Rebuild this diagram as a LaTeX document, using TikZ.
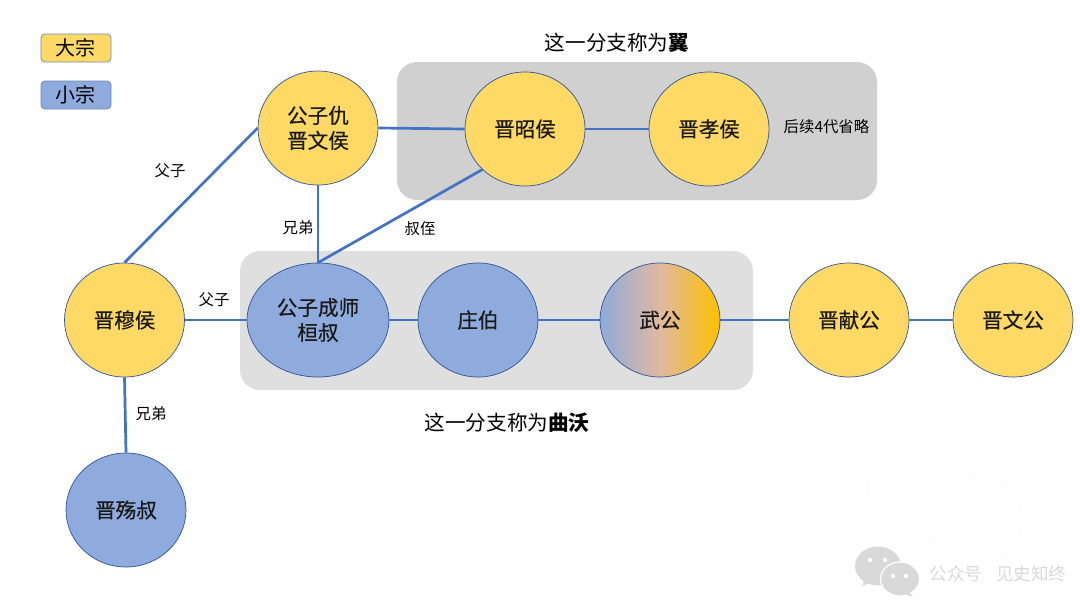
\documentclass[tikz,border=0pt]{standalone}
\usepackage{fontspec}
\setmainfont{Noto Sans CJK SC}
\newfontfamily\heavier[FakeBold=0.5]{Noto Sans CJK SC}
\usetikzlibrary{shapes.geometric}
\definecolor{gold}{HTML}{FFD966}
\definecolor{blu}{HTML}{8FAADC}
\definecolor{edgeb}{HTML}{2F5597}
\definecolor{connc}{HTML}{4472C4}
\definecolor{wm}{HTML}{D9D9D9}
\definecolor{midg}{HTML}{E0B9A0}
\definecolor{amber}{HTML}{FFC000}
\tikzset{
 person/.style={ellipse,draw=edgeb,line width=0.7pt,minimum width=120pt,minimum height=114pt,inner sep=0pt,font=\heavier\fontsize{20.6}{25}\selectfont,align=center,text=black!90},
 da/.style={person,fill=gold},
 xiao/.style={person,fill=blu},
 connline/.style={draw=connc,line width=2.7pt},
 rel/.style={font=\fontsize{15.4}{18}\selectfont,inner sep=0pt},
 captext/.style={font=\fontsize{20.6}{24}\selectfont,inner sep=0pt},
 legendbox/.style={draw=edgeb!70,line width=0.8pt,rounded corners=4pt,minimum width=70pt,minimum height=28pt,inner sep=0pt,font=\fontsize{20}{24}\selectfont},
 panel/.style={rounded corners=20pt,draw=none},
 wmfaint/.style={draw=black!2.5,line width=0.5pt},
}
\begin{document}
\begin{tikzpicture}[x=1pt,y=-1pt]
\useasboundingbox (0,0) rectangle (1080,600);
% panels
\fill[panel,fill=black!18.5] (397,62) rectangle (877,200);
\fill[panel,fill=black!12.5] (240,251) rectangle (753,390);
% watermark
\draw[wmfaint] (923,490) ellipse (54 and 50);
\draw[wmfaint] (975,520) ellipse (48 and 45);
\fill[wm] (878,566) ellipse (23 and 19.5);
\fill[wm] (864,580) -- (862,586) -- (873,582) -- cycle;
\fill[wm,draw=white,line width=1.2pt] (900,579) ellipse (19.5 and 17);
\fill[wm] (909,592) -- (913,597) -- (905,594) -- cycle;
\foreach \p in {(870,560),(885,560),(893,576),(906,576)} \fill[white] \p circle (2.2);
\node[text=wm,font=\fontsize{17.5}{20}\selectfont,inner sep=0pt] (wmt) at (998,574) {公众号\hspace{0.8em}见史知终};
% legend
\node[legendbox,fill=gold] (lgd) at (76,48) {\raisebox{-1pt}{大宗}};
\node[legendbox,fill=blu] (lgx) at (76,95) {\raisebox{-1pt}{小宗}};
% people
\node[da] (qiu) at (318,128) {公子仇\\晋文侯};
\node[da] (zhao) at (525,129) {晋昭侯};
\node[da] (xiaoh) at (709,129) {晋孝侯};
\node[da] (mu) at (124.5,320) {晋穆侯};
\node[xiao,minimum width=142pt] (cs) at (318,320) {公子成师\\桓叔};
\node[xiao] (zb) at (478,320) {庄伯};
\node[person,left color=blu,right color=amber,middle color=midg] (wg) at (660,320) {武公};
\node[da] (xian) at (849,320) {晋献公};
\node[da] (wen) at (1013,320) {晋文公};
\node[xiao] (shang) at (126,510) {晋殇叔};
% connectors
\draw[connline] (mu.north) -- (qiu.west);
\draw[connline] (qiu.east) -- (zhao.west);
\draw[connline] (zhao.east) -- (xiaoh.west);
\draw[connline] (qiu.south) -- (cs.north);
\draw[connline] (zhao.south west) -- (cs.north);
\draw[connline] (mu.east) -- (cs.west);
\draw[connline] (cs.east) -- (zb.west);
\draw[connline] (zb.east) -- (wg.west);
\draw[connline] (wg.east) -- (xian.west);
\draw[connline] (xian.east) -- (wen.west);
\draw[connline] (mu.south) -- (shang.north);
% labels
\node[rel] (l1) at (170,171) {父子};
\node[rel] (l2) at (298,228) {兄弟};
\node[rel] (l3) at (420,229) {叔侄};
\node[rel] (l4) at (214,300) {父子};
\node[rel] (l5) at (151,414) {兄弟};
\node[rel] (l6) at (826.5,127) {后续4代省略};
\node[captext] (c1) at (617,43) {这一分支称为\textbf{翼}};
\node[captext] (c2) at (507,423) {这一分支称为\textbf{曲沃}};
\end{tikzpicture}
\end{document}
